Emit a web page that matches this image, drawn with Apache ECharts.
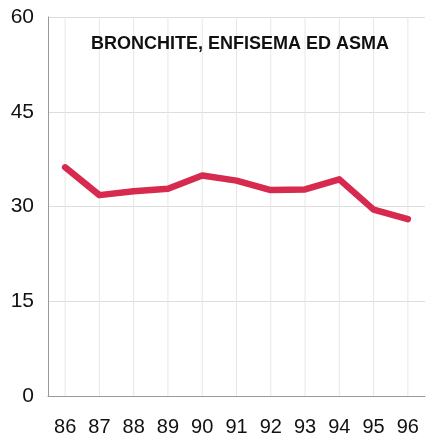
<!DOCTYPE html>
<html>
<head>
<meta charset="UTF-8">
<title>Bronchite, enfisema ed asma</title>
<script src="https://cdn.jsdelivr.net/npm/echarts@6/dist/echarts.min.js"></script>
<style>
  html, body { margin: 0; padding: 0; background: #fff; }
  #chart { width: 427px; height: 437px; }
</style>
</head>
<body>
<div id="chart"></div>
<script>
var years = ['86', '87', '88', '89', '90', '91', '92', '93', '94', '95', '96'];
var values = [36.2, 31.8, 32.4, 32.8, 34.9, 34.1, 32.6, 32.7, 34.3, 29.5, 28.0];
var yTicks = [0, 15, 30, 45, 60];
var chartTitle = 'BRONCHITE, ENFISEMA ED ASMA';

var chart = echarts.init(document.getElementById('chart'));
chart.setOption({
    animation: false,
    backgroundColor: '#fff',
    title: {
        text: chartTitle,
        left: 86,
        top: 30,
        textStyle: {
            fontFamily: 'Liberation Sans',
            fontSize: 18,
            fontWeight: 'bold',
            color: '#111'
        }
    },
    grid: { left: 48, right: 2, top: 17, bottom: 39, containLabel: false },
    xAxis: {
        type: 'category',
        data: years,
        boundaryGap: true,
        axisLine: { show: true, lineStyle: { color: '#999', width: 1 } },
        axisTick: { show: false },
        axisLabel: {
            margin: 21,
            fontFamily: 'Liberation Sans',
            fontSize: 20,
            color: '#111',
            interval: 0
        },
        splitLine: { show: false }
    },
    yAxis: {
        type: 'value',
        min: yTicks[0],
        max: yTicks[yTicks.length - 1],
        interval: 15,
        axisLine: { show: true, lineStyle: { color: '#999', width: 1 } },
        axisTick: { show: false },
        axisLabel: {
            margin: 14,
            fontFamily: 'Liberation Sans',
            fontSize: 21,
            color: '#111'
        },
        splitLine: { show: true, lineStyle: { color: '#ddd', width: 1 } }
    },
    series: [
        {
            // vertical grid lines sitting on each year
            type: 'bar',
            data: years.map(function () { return yTicks[yTicks.length - 1]; }),
            barWidth: 1,
            itemStyle: { color: '#e6e6e6' },
            silent: true,
            z: 1
        },
        {
            type: 'line',
            data: values,
            symbol: 'none',
            lineStyle: { color: '#d62a4f', width: 6.5, cap: 'round', join: 'round' },
            z: 5
        }
    ]
});
</script>
</body>
</html>
